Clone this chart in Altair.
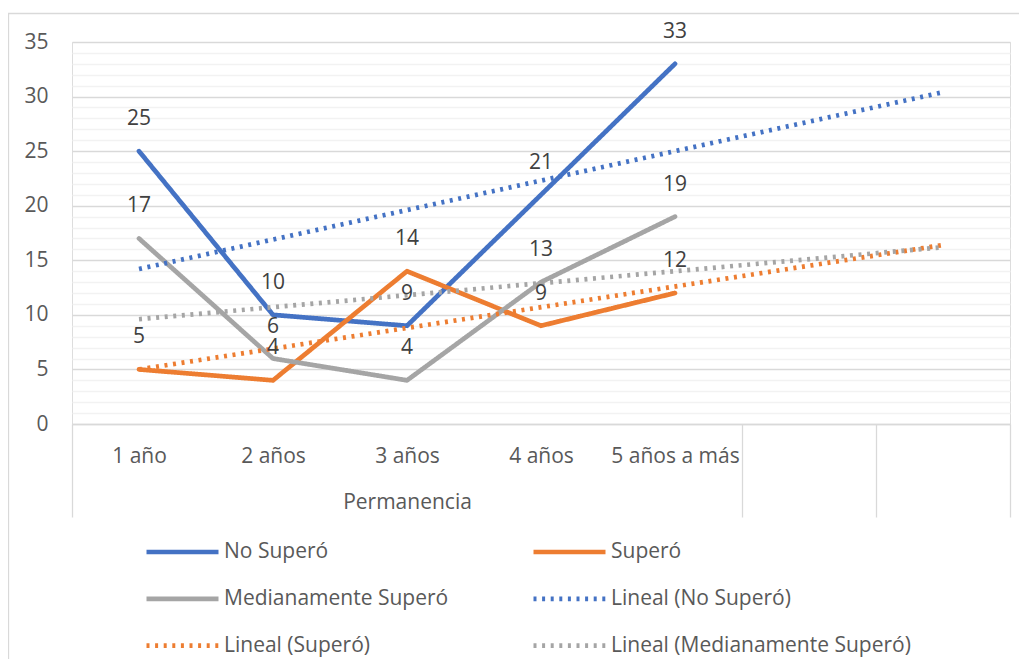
import json
import altair as alt
import pandas as pd

# ---- data ----
categorias = ["1 año", "2 años", "3 años", "4 años", "5 años a más"]
posiciones = [1, 2, 3, 4, 5]
no_supero = [25, 10, 9, 21, 33]
supero = [5, 4, 14, 9, 12]
medianamente = [17, 6, 4, 13, 19]
series = ["No Superó", "Superó", "Medianamente Superó"]
tendencias = ["Lineal (No Superó)", "Lineal (Superó)", "Lineal (Medianamente Superó)"]
colores = ["#4472C4", "#ED7D31", "#A5A5A5"]
titulo_x = "Permanencia"

rows = []
for name, vals in zip(series, [no_supero, supero, medianamente]):
    for p, c, v in zip(posiciones, categorias, vals):
        rows.append({"pos": p, "cat": c, "valor": v, "serie": name})
df = pd.DataFrame(rows)

FONT = "Open Sans"
FS = 21
W, H = 938, 382
TXT = "#595959"
GRID = "#d9d9d9"
MINOR = "#f2f2f2"

orden = series + tendencias
color_scale = alt.Scale(domain=orden, range=colores + colores)
dash_scale = alt.Scale(domain=orden, range=[[1, 0]] * 3 + [[3, 5.6]] * 3)
width_scale = alt.Scale(domain=orden, range=[4.7] * 3 + [3.6] * 3)

leg = alt.Legend(
    title=None, orient="none", legendX=72, legendY=487, columns=2,
    direction="horizontal", clipHeight=46,
    symbolType="stroke", symbolSize=5184, labelFont=FONT, labelFontSize=FS,
    labelColor=TXT, labelOffset=3, columnPadding=82, rowPadding=0.8,
    labelLimit=500,
)

lab_expr = (
    f"datum.value % 1 == 0 && datum.value <= {len(categorias)} ? "
    f"{json.dumps(categorias, ensure_ascii=False)}[datum.value - 1] : ''"
)
x_axis = alt.Axis(
    values=[0.5, 1, 2, 3, 4, 5, 5.5, 6.5, 7.5],
    labelExpr=lab_expr, tickSize=93,
    tickColor={"condition": {"test": "datum.value % 1 != 0", "value": GRID},
               "value": "rgba(0,0,0,0)"},
    tickWidth=1.3, domainColor=GRID, domainWidth=1.3,
    labelPadding=-72, labelFont=FONT, labelFontSize=FS, labelColor=TXT,
    labelFlush=False, labelOverlap=False, labelBound=False,
    title=titulo_x, titleX=W * 5 / 7 / 2, titleY=78, titleBaseline="middle",
    titleFont=FONT, titleFontSize=FS, titleColor=TXT, titleFontWeight="normal",
    grid=False,
)
y_axis = alt.Axis(
    values=list(range(0, 36)),
    labelExpr="datum.value % 5 == 0 ? datum.label : ''",
    grid=True,
    gridColor={"condition": {"test": "datum.value % 5 == 0", "value": GRID},
               "value": MINOR},
    gridWidth=1.3, ticks=False, domain=False, labelPadding=24,
    labelFont=FONT, labelFontSize=FS, labelColor=TXT, title=None,
)

x_enc = alt.X("pos:Q", scale=alt.Scale(domain=[0.5, 7.5], nice=False, zero=False), axis=x_axis)
y_enc = alt.Y("valor:Q", scale=alt.Scale(domain=[0, 35], nice=False), axis=y_axis)

enc_common = dict(
    color=alt.Color("serie:N", scale=color_scale, legend=leg, sort=orden),
    strokeDash=alt.StrokeDash("serie:N", scale=dash_scale, legend=leg, sort=orden),
    strokeWidth=alt.StrokeWidth("serie:N", scale=width_scale, legend=leg, sort=orden),
)

frame = alt.Chart(pd.DataFrame({"k": [0]})).mark_rect(
    fill="white", fillOpacity=0, stroke=GRID, strokeWidth=1.3
).encode(x=alt.value(-63.5), x2=alt.value(980), y=alt.value(-28.5), y2=alt.value(700))

lines = alt.Chart(df).mark_line(strokeCap="round", strokeJoin="round").encode(
    x=x_enc, y=y_enc, detail="serie:N", **enc_common
)

trend = (
    alt.Chart(df)
    .transform_regression("pos", "valor", groupby=["serie"], extent=[1, 7])
    .transform_calculate(serie="'Lineal (' + datum.serie + ')'")
    .mark_line(strokeCap="butt")
    .encode(x=x_enc, y=y_enc, **enc_common)
)

labels = alt.Chart(df).mark_text(
    dy=-32, font=FONT, fontSize=FS, color="#404040", baseline="middle"
).encode(x=x_enc, y=y_enc, text="valor:Q")

chart = (
    alt.layer(frame, lines, trend, labels)
    .properties(
        width=W, height=H,
        autosize=alt.AutoSizeParams(type="none"),
        padding={"left": 64, "top": 34, "right": 9, "bottom": 235},
    )
    .configure_view(stroke=None)
    .configure(background="white")
)

chart.save("out.html", embed_options={"renderer": "svg", "actions": False})
